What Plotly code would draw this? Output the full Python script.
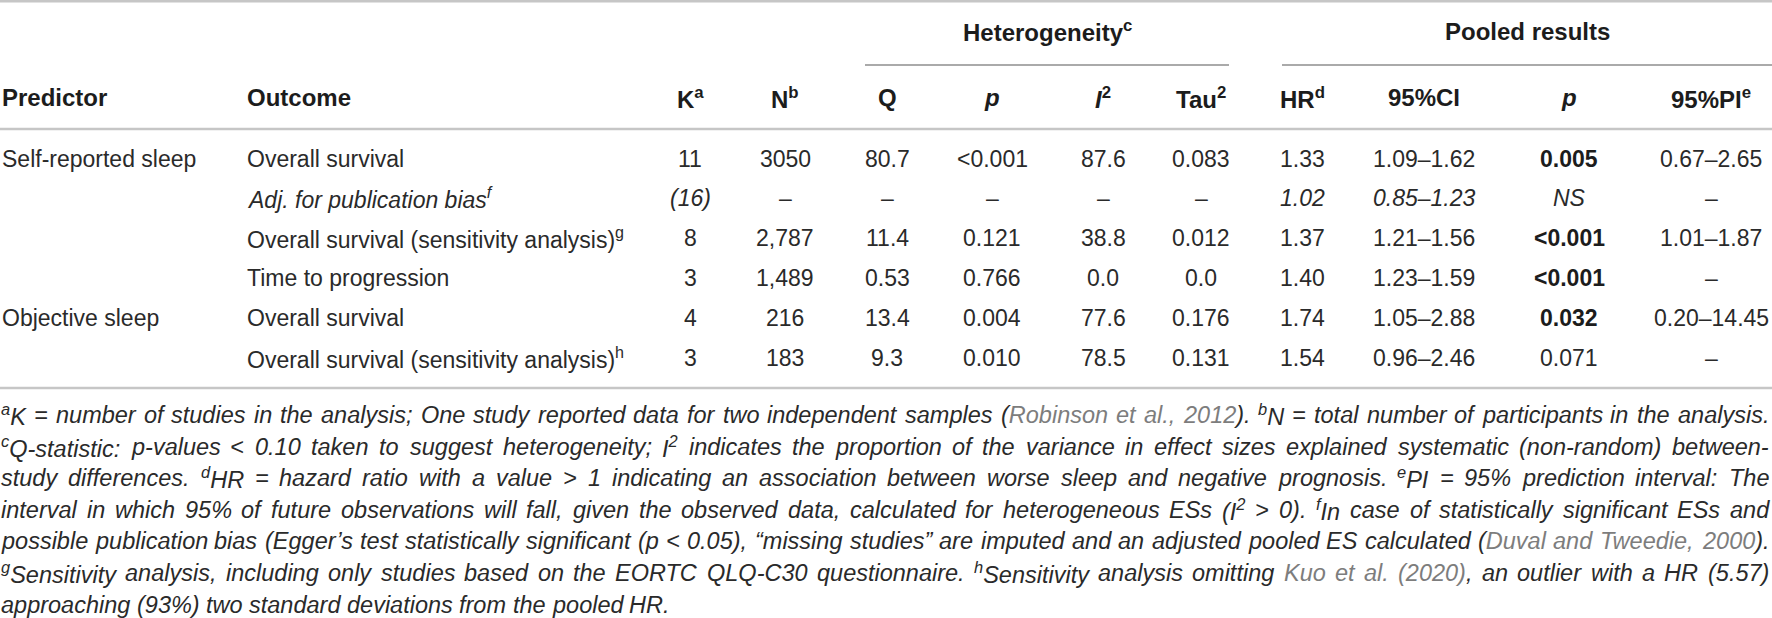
import re
import plotly.graph_objects as go

# ---------------- data ----------------
predictors = ["Self-reported sleep", "", "", "", "Objective sleep", ""]
outcomes = ["Overall survival", "Adj. for publication bias", "Overall survival (sensitivity analysis)",
            "Time to progression", "Overall survival", "Overall survival (sensitivity analysis)"]
outcome_sups = ["", "f", "g", "", "", "h"]
k_vals = ["11", "(16)", "8", "3", "4", "3"]
n_vals = ["3050", "–", "2,787", "1,489", "216", "183"]
q_vals = ["80.7", "–", "11.4", "0.53", "13.4", "9.3"]
p_het = ["&lt;0.001", "–", "0.121", "0.766", "0.004", "0.010"]
i2_vals = ["87.6", "–", "38.8", "0.0", "77.6", "78.5"]
tau2_vals = ["0.083", "–", "0.012", "0.0", "0.176", "0.131"]
hr_vals = ["1.33", "1.02", "1.37", "1.40", "1.74", "1.54"]
ci_vals = ["1.09–1.62", "0.85–1.23", "1.21–1.56", "1.23–1.59", "1.05–2.88", "0.96–2.46"]
p_pool = ["0.005", "NS", "&lt;0.001", "&lt;0.001", "0.032", "0.071"]
p_pool_bold = [True, False, True, True, True, False]
pi_vals = ["0.67–2.65", "–", "1.01–1.87", "–", "0.20–14.45", "–"]
italic_row = [False, True, False, False, False, False]

col_headers = ["Predictor", "Outcome", "K<sup>a</sup>", "N<sup>b</sup>", "Q", "<i>p</i>",
               "<i>I</i><sup>2</sup>", "Tau<sup>2</sup>", "HR<sup>d</sup>", "95%CI", "<i>p</i>",
               "95%PI<sup>e</sup>"]
group_headers = ["Heterogeneity<sup>c</sup>", "Pooled results"]

# footnote lines (<sup>..</sup> = superscript, <g>..</g> = grey citation)
footnote_lines = [
    "<sup>a</sup>K = number of studies in the analysis; One study reported data for two independent samples "
    "(<g>Robinson et al., 2012</g>). <sup>b</sup>N = total number of participants in the analysis.",
    "<sup>c</sup>Q-statistic: p-values < 0.10 taken to suggest heterogeneity; I<sup>2</sup> indicates the proportion "
    "of the variance in effect sizes explained systematic (non-random) between-",
    "study differences. <sup>d</sup>HR = hazard ratio with a value > 1 indicating an association between worse "
    "sleep and negative prognosis. <sup>e</sup>PI = 95% prediction interval: The",
    "interval in which 95% of future observations will fall, given the observed data, calculated for heterogeneous "
    "ESs (I<sup>2</sup> > 0). <sup>f</sup>In case of statistically significant ESs and",
    "possible publication bias (Egger’s test statistically significant (p < 0.05), “missing studies” are imputed "
    "and an adjusted pooled ES calculated (<g>Duval and Tweedie, 2000</g>).",
    "<sup>g</sup>Sensitivity analysis, including only studies based on the EORTC QLQ-C30 questionnaire. "
    "<sup>h</sup>Sensitivity analysis omitting <g>Kuo et al. (2020)</g>, an outlier with a HR (5.57)",
    "approaching (93%) two standard deviations from the pooled HR.",
]
justify_line = [True, True, True, True, True, True, False]

# ---------------- layout / style ----------------
W, H = 1772, 618
FONT = "Liberation Sans, Arial, Helvetica, sans-serif"
TXT = "#2a2a2a"
HDR = "#1c1c1c"
GREY_TXT = "#7d7d7d"
RULE = "#c6c6c6"
SUBRULE = "#8e8e8e"

col_x = [2, 247, 690, 785, 887, 992, 1103, 1201, 1302, 1424, 1569, 1711]
col_anchor = ["left", "left"] + ["center"] * 10
row_y = [158.5, 198.3, 238.1, 278.0, 317.8, 357.6]
header_y = 97.5
group_y = 31
group_x = [1047, 1527]
group_lines = [(865, 1229), (1282, 1772)]
underline_y = 65
rules_y = [1.2, 129, 388]
foot_y0, foot_dy = 415, 31.6
foot_x0, foot_x1 = 1, 1769
FOOT_SIZE = 23.5
BODY_SIZE = 23
HEAD_SIZE = 24

# Arial / Liberation Sans advance widths (1/1000 em)
CW = {' ': 278, '!': 278, '"': 355, '#': 556, '$': 556, '%': 889, '&': 667, "'": 191, '(': 333, ')': 333,
      '*': 389, '+': 584, ',': 278, '-': 333, '.': 278, '/': 278, ':': 278, ';': 278, '<': 584, '=': 584,
      '>': 584, '?': 556, '@': 1015, '[': 278, ']': 278, '–': 556, '’': 222, '“': 333, '”': 333}
for ch in "0123456789":
    CW[ch] = 556
CW.update(dict(zip("ABCDEFGHIJKLMNOPQRSTUVWXYZ",
                   [667, 667, 722, 722, 667, 611, 778, 722, 278, 500, 667, 556, 833, 722, 778, 667, 778, 722,
                    667, 611, 722, 667, 944, 667, 667, 611])))
CW.update(dict(zip("abcdefghijklmnopqrstuvwxyz",
                   [556, 556, 500, 556, 556, 278, 556, 556, 222, 222, 500, 222, 833, 556, 556, 556, 556, 333,
                    500, 278, 556, 500, 722, 500, 500, 500])))

fig = go.Figure()
fig.add_trace(go.Scatter(x=[None], y=[None], showlegend=False, hoverinfo="skip"))

ann = []


def add(x, y, text, anchor="center", size=BODY_SIZE, bold=False, italic=False, color=TXT):
    ann.append(dict(x=x, y=y, xref="x", yref="y", text=text, showarrow=False,
                    xanchor=anchor, yanchor="middle", borderpad=0, borderwidth=0,
                    font=dict(family=FONT, size=size, color=color,
                              weight=700 if bold else 400,
                              style="italic" if italic else "normal")))


def esc(s):
    return s.replace("&", "&amp;").replace("<", "&lt;").replace(">", "&gt;")


def parse_runs(line):
    runs = []
    for part in re.split(r"(<sup>.*?</sup>|<g>.*?</g>)", line):
        if not part:
            continue
        if part.startswith("<sup>"):
            runs.append(("sup", part[5:-6]))
        elif part.startswith("<g>"):
            runs.append(("g", part[3:-4]))
        else:
            runs.append(("n", part))
    return runs


def split_words(runs):
    words, cur = [], []
    for style, txt in runs:
        for ch in txt:
            if ch == " ":
                if cur:
                    words.append(cur)
                cur = []
            else:
                if cur and cur[-1][0] == style:
                    cur[-1] = (style, cur[-1][1] + ch)
                else:
                    cur.append((style, ch))
    if cur:
        words.append(cur)
    return words


def word_width(word, size):
    w = 0.0
    for style, txt in word:
        f = 0.7 if style == "sup" else 1.0
        w += sum(CW.get(c, 556) for c in txt) / 1000.0 * size * f
    return w


def word_markup(word):
    out = ""
    for style, txt in word:
        if style == "sup":
            out += f"<sup>{esc(txt)}</sup>"
        elif style == "g":
            out += f"<span style='color:{GREY_TXT}'>{esc(txt)}</span>"
        else:
            out += esc(txt)
    return out


# group headers
for gx, gt in zip(group_x, group_headers):
    add(gx, group_y, gt, size=HEAD_SIZE, bold=True, color=HDR)

# column headers
for cx, ca, ct in zip(col_x, col_anchor, col_headers):
    add(cx, header_y, ct, anchor=ca, size=HEAD_SIZE, bold=True, color=HDR)

# body
columns = [predictors, outcomes, k_vals, n_vals, q_vals, p_het, i2_vals, tau2_vals,
           hr_vals, ci_vals, p_pool, pi_vals]
italic_cols = {1, 2, 8, 9, 10}
for r, ry in enumerate(row_y):
    for c, col in enumerate(columns):
        val = col[r]
        if not val:
            continue
        if c == 1 and outcome_sups[r]:
            val = f"{val}<sup>{outcome_sups[r]}</sup>"
        bold = (c == 10 and p_pool_bold[r])
        it = italic_row[r] and c in italic_cols
        add(col_x[c], ry, val, anchor=col_anchor[c], bold=bold, italic=it,
            color=HDR if bold else TXT)

# footnotes, justified word by word
space_w = CW[" "] / 1000.0 * FOOT_SIZE
for i, line in enumerate(footnote_lines):
    words = split_words(parse_runs(line))
    widths = [word_width(w, FOOT_SIZE) for w in words]
    if justify_line[i] and len(words) > 1:
        gap = (foot_x1 - foot_x0 - sum(widths)) / (len(words) - 1)
    else:
        gap = space_w
    x = foot_x0
    y = foot_y0 + i * foot_dy
    for w, ww in zip(words, widths):
        add(x, y, word_markup(w), anchor="left", size=FOOT_SIZE, italic=True)
        x += ww + gap

shapes = []
for ry in rules_y:
    shapes.append(dict(type="line", xref="x", yref="y", x0=0, x1=W, y0=ry, y1=ry,
                       line=dict(color=RULE, width=2.4)))
for x0, x1 in group_lines:
    shapes.append(dict(type="line", xref="x", yref="y", x0=x0, x1=x1, y0=underline_y, y1=underline_y,
                       line=dict(color=SUBRULE, width=1.4)))

fig.update_layout(
    width=W, height=H, margin=dict(l=0, r=0, t=0, b=0),
    paper_bgcolor="white", plot_bgcolor="white",
    xaxis=dict(range=[0, W], visible=False, fixedrange=True),
    yaxis=dict(range=[H, 0], visible=False, fixedrange=True),
    annotations=ann, shapes=shapes, showlegend=False,
)

fig.write_html("out.html", config={"displayModeBar": False},
               post_script="document.body.style.margin='0';document.body.style.overflow='hidden';")
